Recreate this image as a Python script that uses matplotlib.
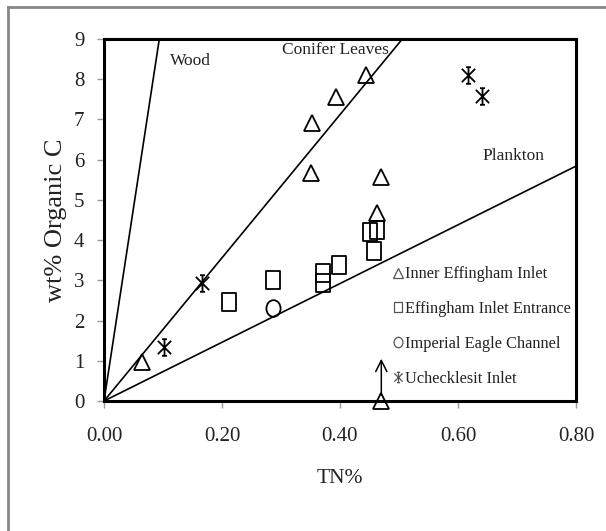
import matplotlib
matplotlib.use("Agg")
import matplotlib.pyplot as plt
from matplotlib.path import Path
from matplotlib.transforms import Affine2D
from matplotlib.lines import Line2D
import numpy as np

plt.rcParams['font.family'] = ['Liberation Serif', 'DejaVu Serif']

# ---- data ----
inner_tn = [0.064, 0.393, 0.353, 0.351, 0.470, 0.462, 0.444, 0.470]
inner_c  = [0.98, 7.56, 6.92, 5.67, 5.56, 4.68, 8.10, 0.00]

entr_tn = [0.212, 0.287, 0.371, 0.371, 0.399, 0.450, 0.462, 0.458]
entr_c  = [2.45, 3.01, 3.19, 2.93, 3.38, 4.21, 4.25, 3.73]

imp_tn = [0.287]
imp_c  = [2.32]

uch_tn = [0.166, 0.102, 0.617, 0.640]
uch_c  = [2.93, 1.35, 8.11, 7.58]

series_labels = ["Inner Effingham Inlet", "Effingham Inlet Entrance",
                 "Imperial Eagle Channel", "Uchecklesit Inlet"]

ref_names  = ["Wood", "Conifer Leaves", "Plankton"]
ref_ratios = [96.0, 17.8, 7.3]       # wt% C per TN%
ref_label_xy = [(0.112, 8.45), (0.302, 8.72), (0.642, 6.10)]

arrow_x, arrow_y0, arrow_y1 = 0.470, 0.08, 1.12

x_ticks = [0.0, 0.2, 0.4, 0.6, 0.8]
x_tick_labels = ["0.00", "0.20", "0.40", "0.60", "0.80"]
y_ticks = list(range(0, 10))

# ---- markers ----
tri_m = '^'
sq_m = Path([(-0.4, -0.5), (0.4, -0.5), (0.4, 0.5), (-0.4, 0.5), (-0.4, -0.5)],
            [Path.MOVETO, Path.LINETO, Path.LINETO, Path.LINETO, Path.CLOSEPOLY])
circ_m = Path.unit_circle().transformed(Affine2D().scale(0.85, 1.0))
d = 0.8
ast_m = Path([(0, -1), (0, 1), (-d, -d), (d, d), (-d, d), (d, -d),
              (-0.3, 1), (0.3, 1), (-0.3, -1), (0.3, -1)],
             [Path.MOVETO, Path.LINETO] * 5)

fig = plt.figure(figsize=(6.06, 5.31), dpi=100)
ax = fig.add_axes([104/606, 1-401/531, 472/606, 362/531])

# reference lines
for name, r in zip(ref_names, ref_ratios):
    xe = min(0.8, 9.0 / r)
    ax.plot([0, xe], [0, r * xe], color='black', lw=1.2, zorder=2)
for name, (tx, ty) in zip(ref_names, ref_label_xy):
    ax.text(tx, ty, name, fontsize=12.5, va='center', ha='left', color='#222')

mk = dict(linestyle='none', markerfacecolor='none', markeredgecolor='black',
          markeredgewidth=1.3, zorder=4, clip_on=False)
ax.plot(inner_tn, inner_c, marker=tri_m, markersize=11, **mk)
ax.plot(entr_tn, entr_c, marker=sq_m, markersize=12.5, **mk)
ax.plot(imp_tn, imp_c, marker=circ_m, markersize=12, **mk)
ax.plot(uch_tn, uch_c, marker=ast_m, markersize=12, **mk)

ax.annotate("", xy=(arrow_x, arrow_y1), xytext=(arrow_x, arrow_y0),
            arrowprops=dict(arrowstyle='->,head_length=0.8,head_width=0.4',
                            color='black', lw=1.1), zorder=2)

# legend
lmk = dict(linestyle='none', markerfacecolor='none', markeredgecolor='#555',
           markeredgewidth=0.9)
handles = [Line2D([], [], marker=tri_m, markersize=6.5, **lmk),
           Line2D([], [], marker=sq_m, markersize=7.5, **lmk),
           Line2D([], [], marker=circ_m, markersize=7.5, **lmk),
           Line2D([], [], marker=ast_m, markersize=7.5, **lmk)]
leg = ax.legend(handles, series_labels, loc='upper left',
                bbox_to_anchor=(0.613, 0.372), frameon=False,
                handlelength=0.6, handletextpad=0.1, labelspacing=1.15,
                borderpad=0, borderaxespad=0, fontsize=11.8)
for t in leg.get_texts():
    t.set_color('#222')

ax.set_xlim(0, 0.8)
ax.set_ylim(0, 9)
ax.set_xticks(x_ticks)
ax.set_xticklabels(x_tick_labels)
ax.set_yticks(y_ticks)
ax.tick_params(axis='both', direction='out', length=5, width=1,
               color='#999', labelsize=15, labelcolor='#222')
ax.tick_params(axis='x', pad=14)
ax.tick_params(axis='y', pad=9)
for s in ax.spines.values():
    s.set_linewidth(2.2)
    s.set_color('black')

ax.set_xlabel("TN%", fontsize=15.5, color='#222', labelpad=16)
ax.set_ylabel("wt% Organic C", fontsize=19, color='#222', labelpad=5)

# outer chart border (top and left)
fig.add_artist(Line2D([8/606, 1], [1-7/531, 1-7/531], color='#888', lw=2,
                      transform=fig.transFigure))
fig.add_artist(Line2D([8/606, 8/606], [0, 1-7/531], color='#888', lw=2,
                      transform=fig.transFigure))

fig.savefig("out.png", dpi=100)
